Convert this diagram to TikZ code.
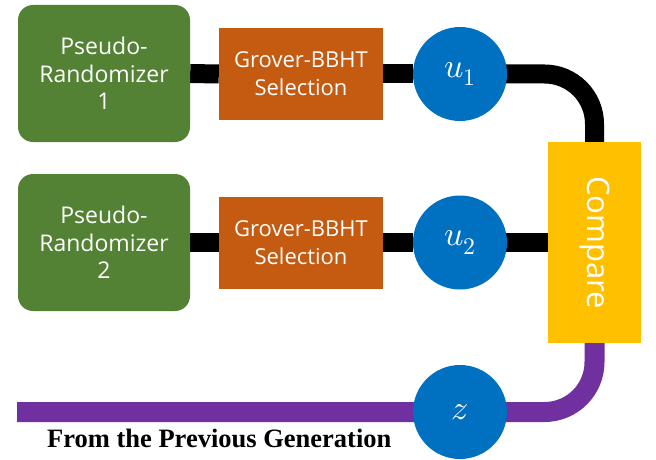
\documentclass[tikz,border=0pt]{standalone}
\usepackage{fontspec}
\usepackage{unicode-math}
\setmainfont{Liberation Serif}
\setmathfont{Latin Modern Math}
\newfontfamily\boxfont{Open Sans}
\usetikzlibrary{backgrounds}

\definecolor{prgreen}{HTML}{548235}
\definecolor{grorange}{HTML}{C55A11}
\definecolor{ublue}{HTML}{0070C0}
\definecolor{cmpgold}{HTML}{FFC000}
\definecolor{genpurple}{HTML}{7030A0}

\tikzset{
  randbox/.style={fill=prgreen, rounded corners=15pt, minimum width=172pt, minimum height=137pt,
    align=center, text=white, font=\boxfont\fontsize{23}{27.5}\selectfont, inner sep=0pt},
  selbox/.style={fill=grorange, minimum width=164pt, minimum height=92pt,
    align=center, text=white, font=\boxfont\fontsize{22}{28}\selectfont, inner sep=0pt},
  valnode/.style={circle, fill=ublue, minimum size=94pt, inner sep=0pt, text=white,
    font=\fontsize{34}{34}\selectfont},
  cmpbox/.style={fill=cmpgold, minimum width=93pt, minimum height=201pt, inner sep=0pt},
  wire/.style={line width=19pt, black},
  genwire/.style={line width=20pt, genpurple}
}

\begin{document}
\begin{tikzpicture}[x=1pt, y=-1pt]
\useasboundingbox (0,0) rectangle (656,460);

% first branch
\node[randbox] (r1) at (104,73.5) {Pseudo-\\Randomizer\\1};
\node[selbox]  (s1) at (301,74) {Grover-BBHT\\Selection};
\node[valnode] (u1) at (460,74) {$u_1$};

% second branch
\node[randbox] (r2) at (104,242.5) {Pseudo-\\Randomizer\\2};
\node[selbox]  (s2) at (301,242.5) {Grover-BBHT\\Selection};
\node[valnode] (u2) at (460,242.5) {$u_2$};

% comparison and incoming generation
\node[cmpbox] (cmp) at (594.5,242.5) {};
\node[rotate=-90, text=white, font=\boxfont\fontsize{31}{31}\selectfont] (cmplabel) at (cmp.center) {Compare};
\node[valnode] (z) at (460,412) {$z$};
\coordinate (prev) at (17,412);

\node[anchor=base west, font=\bfseries\fontsize{26.5}{26.5}\selectfont, inner sep=0pt] (prevlabel)
  at (47,447) {From the Previous Generation};

\begin{scope}[on background layer]
  \draw[wire] (r1.east) -- (s1.west);
  \draw[wire] (s1.east) -- (u1.west);
  \draw[wire, rounded corners=50pt] (u1.center) -- (cmp.north |- u1.center) -- (cmp.north);
  \draw[wire] (r2.east) -- (s2.west);
  \draw[wire] (s2.east) -- (u2.west);
  \draw[wire] (u2.center) -- (cmp.west);
  \draw[genwire, rounded corners=50pt] (prev) -- (z.center) -- (cmp.south |- z.center) -- (cmp.south);
\end{scope}
\end{tikzpicture}
\end{document}
